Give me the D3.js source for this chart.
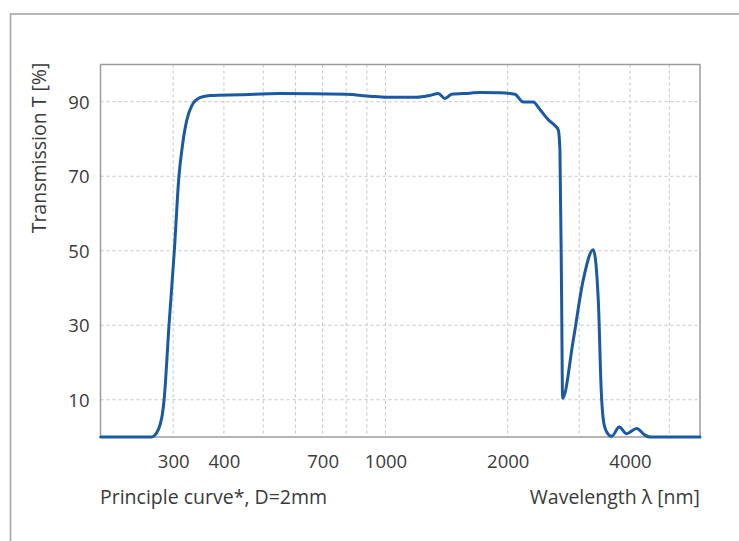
<!DOCTYPE html>
<html>
<head>
<meta charset="utf-8">
<script src="https://cdn.jsdelivr.net/npm/d3@7/dist/d3.min.js"></script>
<style>
  html, body { margin: 0; padding: 0; background: #fff; }
  svg { display: block; }
  text { font-family: "Open Sans", "Noto Sans", sans-serif; fill: #3a3a3a; }
</style>
</head>
<body>
<svg id="chart" width="739" height="541"></svg>
<script>
// ---- data ----
const wavelength = [199, 265, 270, 281, 285, 293, 302, 310, 316, 324, 333, 349, 370, 438, 550, 800, 915, 1006, 1193, 1286, 1349, 1401, 1455, 1614, 1708, 1913, 2083, 2184, 2311, 2401, 2516, 2614, 2663, 2689, 2715, 2730, 2900, 3069, 3248, 3342, 3400, 3440, 3500, 3606, 3764, 3925, 4155, 4355, 4480, 5950];
const transmission = [0, 0, 0.4, 5, 10, 30, 50, 70, 78, 85, 88.8, 91.1, 91.7, 91.9, 92.2, 92.0, 91.5, 91.2, 91.2, 91.7, 92.2, 90.9, 92.0, 92.3, 92.5, 92.4, 92.0, 89.9, 89.9, 87.9, 85.2, 83.6, 82.5, 77, 36.8, 10.4, 26, 42.2, 50.3, 36.8, 12, 4.5, 1.5, 0.2, 2.7, 0.9, 2.3, 0.5, 0, 0];
const xTickLabels = [300, 400, 700, 1000, 2000, 4000];
const xGridValues = [300, 400, 500, 600, 700, 800, 900, 1000, 2000, 3000, 4000, 5000];
const yTickValues = [10, 30, 50, 70, 90];
const xDomain = [198.7, 5950];
const yDomain = [0, 100];

// ---- layout ----
const svg = d3.select("#chart");
const plot = { left: 100.5, top: 64.5, right: 700, bottom: 437 };

const x = d3.scaleLog().domain(xDomain).range([plot.left, plot.right]);
const y = d3.scaleLinear().domain(yDomain).range([plot.bottom, plot.top]);

// outer frame
svg.append("rect")
  .attr("x", 10.5).attr("y", 14).attr("width", 740).attr("height", 540)
  .attr("fill", "none").attr("stroke", "#a6a6a6").attr("stroke-width", 1.6);

// grid
const grid = svg.append("g");
grid.selectAll("line.vx").data(xGridValues).enter().append("line")
  .attr("x1", d => x(d)).attr("x2", d => x(d))
  .attr("y1", plot.top).attr("y2", plot.bottom)
  .attr("stroke", "#c4c4c4").attr("stroke-width", 1).attr("stroke-dasharray", "3,3");
grid.selectAll("line.hy").data(yTickValues).enter().append("line")
  .attr("x1", plot.left).attr("x2", plot.right)
  .attr("y1", d => y(d)).attr("y2", d => y(d))
  .attr("stroke", "#c4c4c4").attr("stroke-width", 1).attr("stroke-dasharray", "3,3");

// plot border
svg.append("rect")
  .attr("x", plot.left).attr("y", plot.top)
  .attr("width", plot.right - plot.left).attr("height", plot.bottom - plot.top)
  .attr("fill", "none").attr("stroke", "#9c9c9c").attr("stroke-width", 1.5);

// axes (labels only)
const xAxis = d3.axisBottom(x).tickValues(xTickLabels).tickFormat(d3.format("d")).tickSize(0).tickPadding(0);
const gx = svg.append("g").attr("transform", `translate(0,${plot.bottom})`).call(xAxis);
gx.select(".domain").remove();
gx.selectAll("text").attr("y", 31).attr("dy", 0).style("font-size", "18.5px")
  .attr("font-family", null);

const yAxis = d3.axisLeft(y).tickValues(yTickValues).tickSize(0).tickPadding(0);
const gy = svg.append("g").attr("transform", `translate(${plot.left},0)`).call(yAxis);
gy.select(".domain").remove();
gy.selectAll("text").attr("x", -11).attr("dy", "0.36em").style("font-size", "18.5px")
  .attr("font-family", null);

// curve
const line = d3.line()
  .x((d, i) => x(wavelength[i]))
  .y((d) => y(d))
  .curve(d3.curveMonotoneX);
svg.append("path")
  .datum(transmission)
  .attr("d", line)
  .attr("fill", "none")
  .attr("stroke", "#1a5aa3")
  .attr("stroke-width", 3)
  .attr("stroke-linejoin", "round")
  .attr("stroke-linecap", "round");

// labels
svg.append("text").attr("x", 100).attr("y", 504)
  .style("font-size", "19.5px").text("Principle curve*, D=2mm");
svg.append("text").attr("x", 700).attr("y", 504).attr("text-anchor", "end")
  .style("font-size", "19.5px").text("Wavelength λ [nm]");
svg.append("text")
  .attr("transform", "translate(46,148) rotate(-90)")
  .attr("text-anchor", "middle")
  .style("font-size", "19.5px").text("Transmission T [%]");
</script>
</body>
</html>
